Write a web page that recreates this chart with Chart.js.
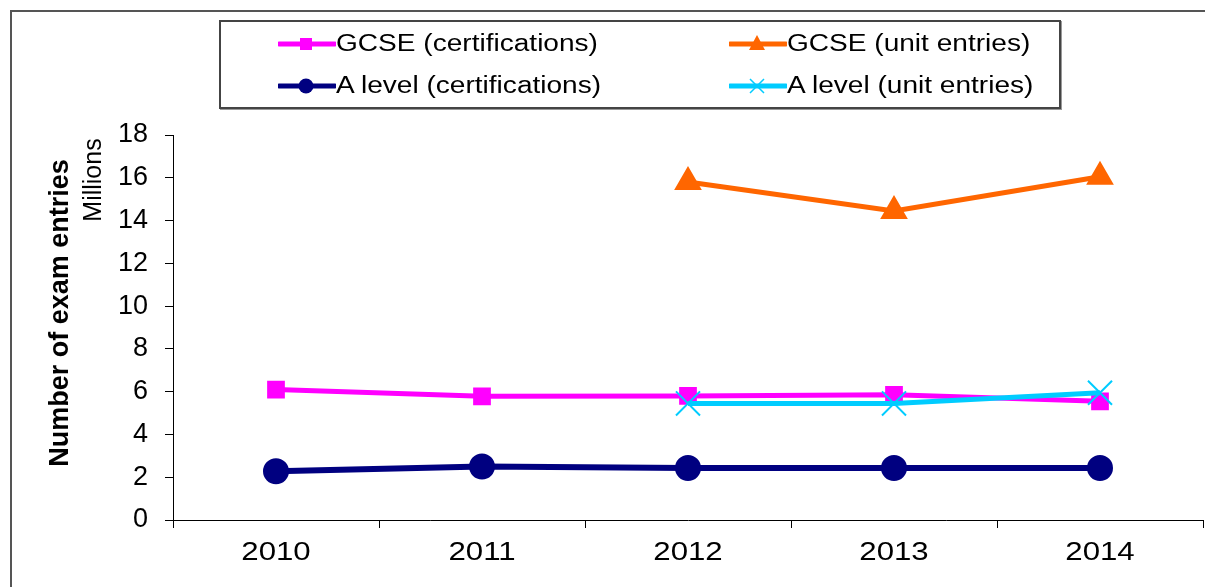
<!DOCTYPE html>
<html>
<head>
<meta charset="utf-8">
<script src="https://cdn.jsdelivr.net/npm/chart.js@4.4.1/dist/chart.umd.min.js"></script>
<style>
  body { margin: 0; background: #fff; }
  #wrap { position: relative; width: 1205px; height: 587px; overflow: hidden; }
  #frame { position: absolute; left: 10px; top: 10px; width: 1300px; height: 700px;
           border-left: 2px solid #555; border-top: 2px solid #555; }
  #chart { position: absolute; left: 0; top: 0; }
  #legend { position: absolute; left: 219px; top: 20px; width: 838px; height: 85px;
            border: 2px solid #444; box-shadow: 1px 1px 0 #999; background: #fff; }
  .item { position: absolute; height: 30px; }
  .item svg { position: absolute; left: 0; top: 0; }
  .item span { position: absolute; left: 58px; top: 1px; font: 23px "Liberation Sans", Arial, sans-serif;
               color: #000; white-space: nowrap; transform: scaleX(1.22); transform-origin: left center; }
</style>
</head>
<body>
<div id="wrap">
  <div id="frame"></div>
  <canvas id="chart" width="1205" height="587"></canvas>
  <div id="legend"></div>
</div>
<script>
const years = ["2010", "2011", "2012", "2013", "2014"];
const gcseCert = [6.1, 5.78, 5.8, 5.85, 5.55];
const gcseUnit = [null, null, 15.8, 14.45, 16.05];
const alevelCert = [2.28, 2.5, 2.43, 2.43, 2.43];
const alevelUnit = [null, null, 5.45, 5.45, 5.95];
const yTicks = [0, 2, 4, 6, 8, 10, 12, 14, 16, 18];

const seriesNames = ["GCSE (certifications)", "GCSE (unit entries)", "A level (certifications)", "A level (unit entries)"];
const colours = ["#FF00FF", "#FF6600", "#000080", "#00CCFF"];

// axis titles and stretched year labels, drawn on the canvas
const textPlugin = {
  id: "texts",
  afterDraw(chart) {
    const ctx = chart.ctx;
    const xs = chart.scales.x;
    ctx.save();
    ctx.fillStyle = "#000";
    ctx.textAlign = "center";
    ctx.textBaseline = "middle";
    ctx.font = '26px "Liberation Sans", Arial, sans-serif';
    years.forEach((y, i) => {
      ctx.save();
      ctx.translate(xs.getPixelForValue(i), 553);
      ctx.scale(1.2, 1);
      ctx.fillText(y, 0, 0);
      ctx.restore();
    });
    ctx.save();
    ctx.translate(61, 313);
    ctx.rotate(-Math.PI / 2);
    ctx.font = 'bold 27px "Liberation Sans", Arial, sans-serif';
    ctx.fillText("Number of exam entries", 0, 0);
    ctx.restore();
    ctx.save();
    ctx.translate(94, 180);
    ctx.rotate(-Math.PI / 2);
    ctx.font = '25px "Liberation Sans", Arial, sans-serif';
    ctx.fillText("Millions", 0, 0);
    ctx.restore();
    ctx.restore();
  }
};

const chart = new Chart(document.getElementById("chart"), {
  type: "line",
  data: {
    labels: years,
    datasets: [
      { label: seriesNames[0], data: gcseCert, borderColor: colours[0], backgroundColor: colours[0],
        pointStyle: "rect", pointRadius: 9, borderWidth: 5, order: 3 },
      { label: seriesNames[1], data: gcseUnit, borderColor: colours[1], backgroundColor: colours[1],
        pointStyle: "triangle", pointRadius: 11, borderWidth: 5, order: 2 },
      { label: seriesNames[2], data: alevelCert, borderColor: colours[2], backgroundColor: colours[2],
        pointStyle: "circle", pointRadius: 10, borderWidth: 6, order: 4 },
      { label: seriesNames[3], data: alevelUnit, borderColor: colours[3], backgroundColor: colours[3],
        pointStyle: "crossRot", pointRadius: 17, pointBorderWidth: 2, borderWidth: 5, order: 1 }
    ]
  },
  options: {
    responsive: false,
    animation: false,
    layout: { autoPadding: false, padding: { left: 0, top: 135, right: 2, bottom: 0 } },
    elements: { line: { tension: 0 }, point: { borderWidth: 1 } },
    plugins: { legend: { display: false }, tooltip: { enabled: false } },
    scales: {
      x: {
        type: "category",
        offset: true,
        grid: { offset: true, drawOnChartArea: false, tickLength: 8, color: "#000" },
        border: { color: "#000", width: 1 },
        ticks: { display: false },
        afterFit(s) { s.height = 67; s.paddingLeft = 0; s.paddingRight = 0; }
      },
      y: {
        min: 0,
        max: 18,
        afterBuildTicks(s) { s.ticks = yTicks.map(v => ({ value: v })); },
        grid: { drawOnChartArea: false, tickLength: 8, color: "#000" },
        border: { color: "#000", width: 1 },
        ticks: { color: "#000", padding: 17, font: { family: "Liberation Sans", size: 27 } },
        afterFit(s) { s.width = 173; s.paddingTop = 0; s.paddingBottom = 0; }
      }
    }
  },
  plugins: [textPlugin]
});

// legend built from the series lists
function markerSvg(i) {
  const c = colours[i];
  let m = "";
  if (i === 0) m = `<rect x="22" y="9" width="12" height="12" fill="${c}"/>`;
  if (i === 1) m = `<polygon points="28,6 36,21 20,21" fill="${c}"/>`;
  if (i === 2) m = `<circle cx="28" cy="15" r="7.5" fill="${c}"/>`;
  if (i === 3) m = `<path d="M21 8 L35 22 M35 8 L21 22" stroke="${c}" stroke-width="1.5"/>`;
  return `<svg width="58" height="30"><line x1="1" y1="15" x2="57" y2="15" stroke="${c}" stroke-width="5" stroke-linecap="round"/>${m}</svg>`;
}
const legend = document.getElementById("legend");
const spots = [[57, 7], [508, 7], [57, 49], [508, 49]];
seriesNames.forEach((name, i) => {
  const d = document.createElement("div");
  d.className = "item";
  d.style.left = spots[i][0] + "px";
  d.style.top = spots[i][1] + "px";
  d.innerHTML = markerSvg(i) + "<span>" + name + "</span>";
  legend.appendChild(d);
});
</script>
</body>
</html>
